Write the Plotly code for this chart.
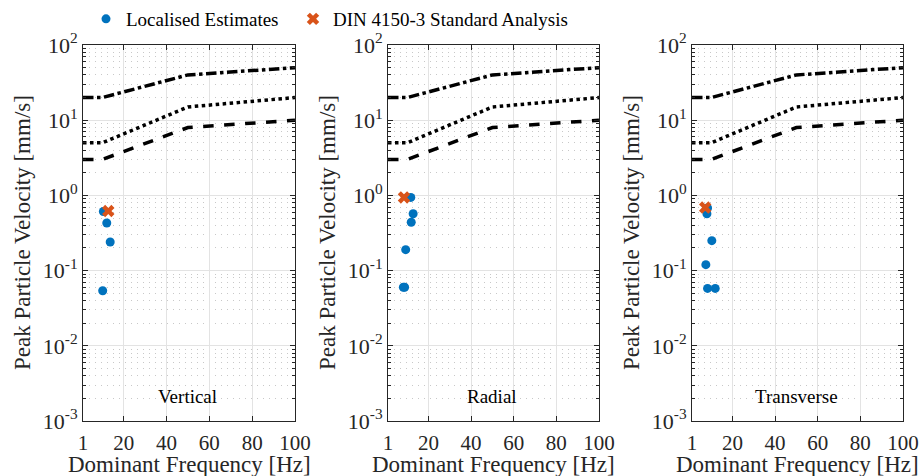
import plotly.graph_objects as go

# ---- data ----
panels = ["Vertical", "Radial", "Transverse"]

loc_freq = {
    "Vertical": [10.5, 12.1, 13.7, 10.2],
    "Radial": [11.7, 12.8, 11.9, 9.3, 8.2, 8.8],
    "Transverse": [8.3, 8.0, 10.3, 7.5, 8.3, 11.9],
}
loc_ppv = {
    "Vertical": [0.61, 0.43, 0.24, 0.054],
    "Radial": [0.94, 0.57, 0.44, 0.19, 0.06, 0.06],
    "Transverse": [0.68, 0.57, 0.25, 0.12, 0.058, 0.058],
}
din_freq = {"Vertical": [12.8], "Radial": [8.5], "Transverse": [7.2]}
din_ppv = {"Vertical": [0.62], "Radial": [0.94], "Transverse": [0.69]}

# DIN 4150-3 guideline curves
guide_freq = [1, 10, 50, 100]
guide_line1 = [20, 20, 40, 50]
guide_line2 = [5, 5, 15, 20]
guide_line3 = [3, 3, 8, 10]

xticks = [1, 20, 40, 60, 80, 100]
yticks = [1e-3, 1e-2, 1e-1, 1e0, 1e1, 1e2]
ytext = ["10<sup>-3</sup>", "10<sup>-2</sup>", "10<sup>-1</sup>", "10<sup>0</sup>",
         "10<sup>1</sup>", "10<sup>2</sup>"]
yminor = [k * 10.0 ** e for e in range(-3, 2) for k in range(2, 10)]

x_title = "Dominant Frequency [Hz]"
y_title = "Peak Particle Velocity [mm/s]"

W, H = 919, 476
BLUE = "#0072BD"
ORANGE = "#D95319"
FONT = "Liberation Serif, Times New Roman, serif"
TXT = "#262626"

domains_px = [(83, 295), (388, 599), (692, 903)]
ytop, ybot = 45, 421
ydom = [(H - ybot) / H, (H - ytop) / H]

fig = go.Figure()
for i, p in enumerate(panels):
    xa = "x" if i == 0 else f"x{i+1}"
    ya = "y" if i == 0 else f"y{i+1}"
    for vals, dash in [(guide_line1, "dashdot"), (guide_line2, "dot"), (guide_line3, "dash")]:
        fig.add_trace(go.Scatter(x=guide_freq, y=vals, mode="lines", xaxis=xa, yaxis=ya,
                                 line=dict(color="black", width=3.5, dash=dash),
                                 showlegend=False, hoverinfo="skip"))
    fig.add_trace(go.Scatter(x=loc_freq[p], y=loc_ppv[p], mode="markers", xaxis=xa, yaxis=ya,
                             marker=dict(color=BLUE, size=9, symbol="circle"),
                             name="Localised Estimates", showlegend=(i == 0),
                             legend="legend"))
    fig.add_trace(go.Scatter(x=din_freq[p], y=din_ppv[p], mode="markers", xaxis=xa, yaxis=ya,
                             marker=dict(color=ORANGE, size=11, symbol="x"),
                             name="DIN 4150-3 Standard Analysis", showlegend=(i == 0),
                             legend="legend2"))

    xkey = "xaxis" if i == 0 else f"xaxis{i+1}"
    ykey = "yaxis" if i == 0 else f"yaxis{i+1}"
    d0, d1 = domains_px[i]
    fig.update_layout(**{
        xkey: dict(domain=[d0 / W, d1 / W], range=[1, 100], anchor=ya, automargin=False,
                   tickmode="array", tickvals=xticks, ticktext=[str(t) for t in xticks],
                   ticks="inside", ticklen=5, tickcolor=TXT, ticklabelstandoff=3,
                   showline=True, linecolor=TXT, linewidth=1, mirror="ticks",
                   showgrid=True, gridcolor="#e3e3e3", gridwidth=1, zeroline=False,
                   tickfont=dict(family=FONT, size=21, color=TXT)),
        ykey: dict(domain=ydom, type="log", range=[-3, 2], anchor=xa, automargin=False,
                   tickmode="array", tickvals=yticks, ticktext=ytext,
                   ticks="inside", ticklen=5, tickcolor=TXT,
                   showline=True, linecolor=TXT, linewidth=1, mirror="ticks",
                   showgrid=True, gridcolor="#e3e3e3", gridwidth=1, zeroline=False,
                   minor=dict(tickmode="array", tickvals=yminor, ticks="inside", ticklen=3,
                              tickcolor=TXT, showgrid=True, gridcolor="#c8c8c8",
                              griddash="1px,5px", gridwidth=1),
                   tickfont=dict(family=FONT, size=22, color=TXT)),
    })
    fig.add_annotation(x=50, y=-2.67, xref=xa, yref=ya, text=p, showarrow=False,
                       font=dict(family=FONT, size=19, color="black"))
    # axis titles
    fig.add_annotation(x=(d0 + d1) / 2 / W, y=(H - 464) / H, xref="paper", yref="paper",
                       text=x_title, showarrow=False, xanchor="center", yanchor="middle",
                       font=dict(family=FONT, size=23, color=TXT))
    fig.add_annotation(x=(d0 - 61) / W, y=(H - (ytop + ybot) / 2) / H, xref="paper",
                       yref="paper", text=y_title, showarrow=False, textangle=-90,
                       xanchor="center", yanchor="middle",
                       font=dict(family=FONT, size=23, color=TXT))

leg_common = dict(orientation="h", y=1.0, xanchor="left", yanchor="top",
                  font=dict(family=FONT, size=19, color="black"),
                  bgcolor="rgba(0,0,0,0)")
fig.update_layout(
    width=W, height=H,
    margin=dict(l=0, r=0, t=0, b=0, autoexpand=False),
    paper_bgcolor="white", plot_bgcolor="white",
    showlegend=True,
    legend=dict(x=(105 - 19) / W, **leg_common),
    legend2=dict(x=(312 - 19) / W, **leg_common),
)

fig.write_html("out.html")
